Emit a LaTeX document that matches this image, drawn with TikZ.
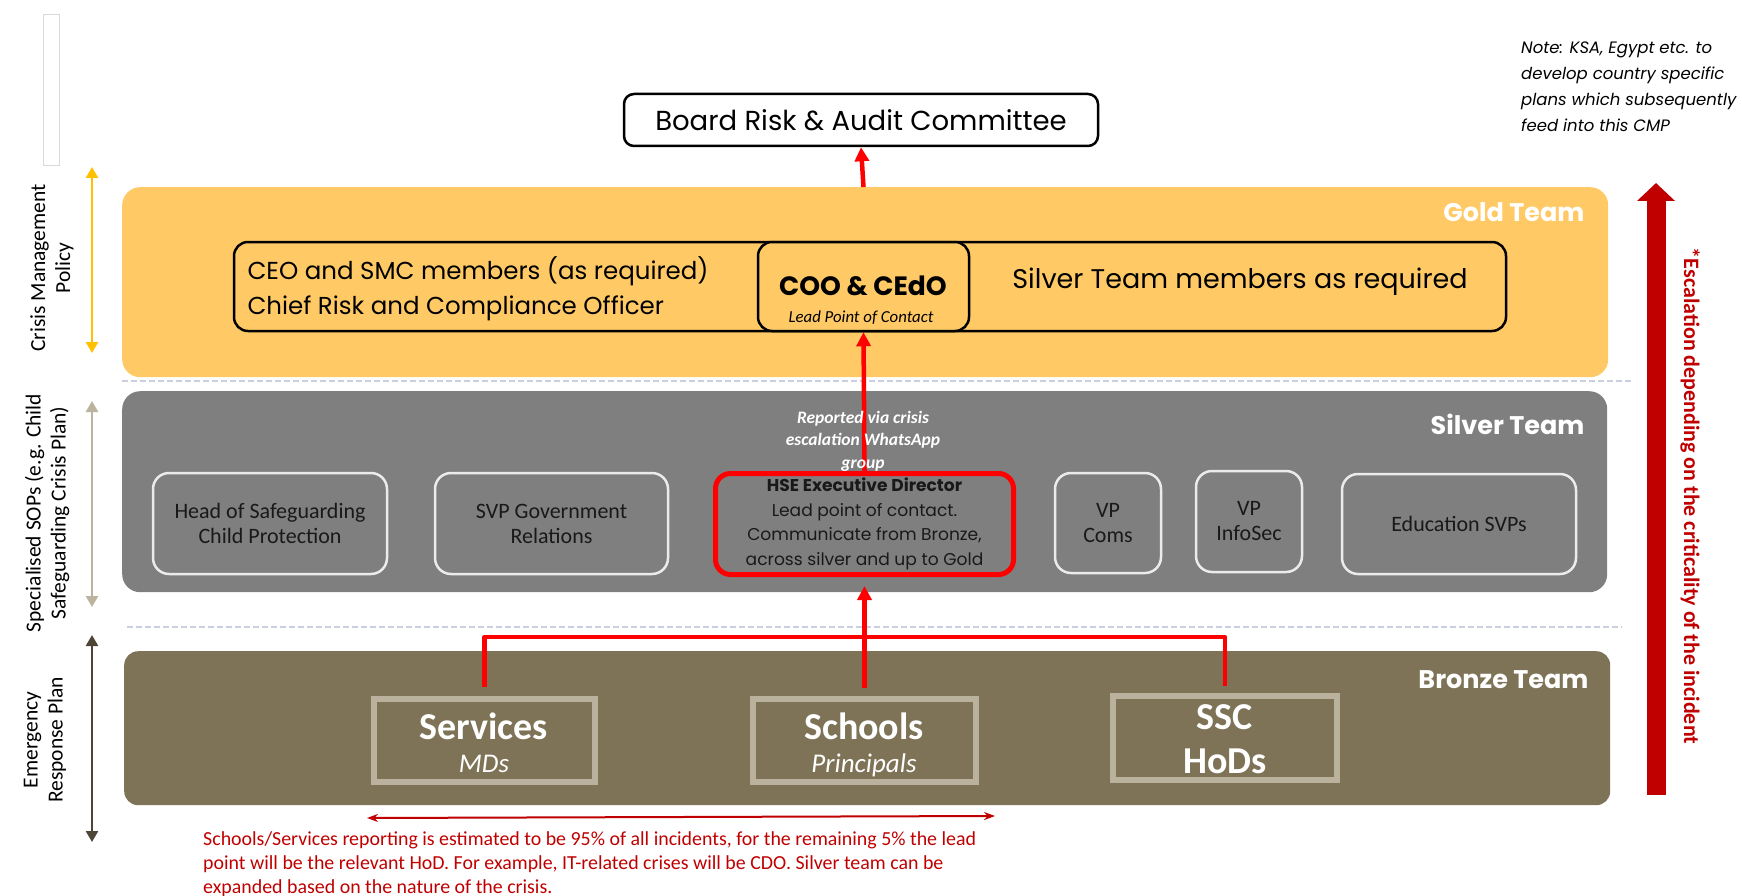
\documentclass[tikz,border=0pt]{standalone}
\usepackage{fontspec}
\setmainfont{Carlito}
\newfontfamily\fut{Poppins}
\usetikzlibrary{arrows.meta}

\definecolor{goldc}{HTML}{FFCA66}
\definecolor{silverc}{HTML}{7F7F7F}
\definecolor{bronzec}{HTML}{7E7356}
\definecolor{bronzeline}{HTML}{BBB29D}
\definecolor{darkred}{HTML}{C00000}
\definecolor{dashc}{HTML}{C9CFDC}
\definecolor{goldarr}{HTML}{FFC000}
\definecolor{silverarr}{HTML}{BCB39F}
\definecolor{bronzearr}{HTML}{4D4535}

\newcommand{\setfs}[2]{\fontsize{#1}{#2}\selectfont}

\begin{document}
\begin{tikzpicture}[x=1pt,y=-1pt,
    panel/.style={rounded corners=18pt, inner sep=0pt, anchor=north west},
    member/.style={draw=white!92!black, line width=2.5pt, rounded corners=16pt, text=black!90, align=center, font=\setfs{22}{25}, inner sep=0pt},
    unitbox/.style={draw=bronzeline, line width=6pt, inner sep=0pt},
    unitname/.style={anchor=base, text=white, font=\bfseries\setfs{38}{40}},
    unitrole/.style={anchor=base, text=white, font=\itshape\setfs{27}{30}},
    teamlbl/.style={anchor=east, text=white, font=\fut\bfseries\setfs{25.5}{30}},
    sidelbl/.style={rotate=90, align=center, font=\setfs{21.5}{25}},
    planarr/.style={line width=2.5pt, {Triangle[width=12pt,length=11pt]}-{Triangle[width=12pt,length=11pt]}},
    redline/.style={red, line width=4.5pt},
    redarr/.style={redline, -{Triangle[width=14pt,length=14pt]}},
    sepline/.style={dashc, line width=2pt, dash pattern=on 6pt off 3pt}]
    \useasboundingbox (0,0) rectangle (1742,896);

    % plan levels down the left side
    \draw[black!15, line width=1pt] (43,15) rectangle (59,166);
    \coordinate (pg1) at (92,167);  \coordinate (pg2) at (92,353);
    \coordinate (ps1) at (92,401);  \coordinate (ps2) at (92,607);
    \coordinate (pb1) at (92,635);  \coordinate (pb2) at (92,842);
    \draw[planarr, goldarr] (pg1) -- (pg2);
    \draw[planarr, silverarr] (ps1) -- (ps2);
    \draw[planarr, bronzearr] (pb1) -- (pb2);
    \node[sidelbl] (policy) at (52,268) {Crisis Management\\Policy};
    \node[sidelbl] (sops) at (47,513) {Specialised SOPs (e.g. Child\\Safeguarding Crisis Plan)};
    \node[sidelbl] (erp) at (45,740) {Emergency\\Response Plan};

    \draw[sepline] (122,381) -- (1631,381);
    \draw[sepline] (127,627) -- (1622,627);

    % team bands
    \node[panel, fill=goldc, minimum width=1486pt, minimum height=190pt] (gold) at (122,187) {};
    \node[panel, fill=silverc, minimum width=1485pt, minimum height=201pt] (silver) at (122,391) {};
    \node[panel, fill=bronzec, minimum width=1486pt, minimum height=154pt, rounded corners=14pt] (bronze) at (124,651) {};
    \node[teamlbl] (goldlbl) at (1588,212) {Gold Team};
    \node[teamlbl] (silverlbl) at (1588,424) {Silver Team};
    \node[teamlbl] (bronzelbl) at (1592,680) {Bronze Team};

    \node[draw, fill=white, line width=2.5pt, rounded corners=10pt, minimum width=474pt, minimum height=52pt,
        font=\fut\setfs{27.5}{30}] (board) at (861,120) {Board Risk \& Audit Committee};

    % gold
    \node[draw, line width=2.5pt, rounded corners=14pt, minimum width=1272pt, minimum height=89pt] (goldrow) at (870,286.5) {};
    \node[draw, fill=goldc, line width=2.5pt, rounded corners=14pt, minimum width=211pt, minimum height=89pt] (coo) at (863.5,286.5) {};
    \node[anchor=west, align=left, font=\fut\setfs{24.5}{35}] (smc) at (244,289) {CEO and SMC members (as required)\\Chief Risk and Compliance Officer};
    \node[font=\fut\bfseries\setfs{26.5}{28}] (cootxt) at (863,286) {COO \& CEdO};
    \node[font=\itshape\setfs{16.8}{18}] (coolead) at (861,318) {Lead Point of Contact};
    \node[font=\fut\setfs{27}{30}] (silvermem) at (1240,282) {Silver Team members as required};

    % silver
    \node[member, minimum width=234pt, minimum height=101pt] (safeguard) at (270,523.5) {Head of Safeguarding\\Child Protection};
    \node[member, minimum width=233pt, minimum height=101pt] (govrel) at (551.5,523.5) {SVP Government\\Relations};
    \node[member, draw=red, line width=5pt, rounded corners=15pt, minimum width=298pt, minimum height=101pt,
        font=\fut\setfs{17.1}{24.5}] (hse) at (864.5,524) {\textbf{HSE Executive Director}\\Lead point of contact.\\Communicate from Bronze,\\across silver and up to Gold};
    \node[member, minimum width=106pt, minimum height=100pt] (coms) at (1108,523) {VP\\Coms};
    \node[member, minimum width=106pt, minimum height=101pt] (infosec) at (1249,521.5) {VP\\InfoSec};
    \node[member, minimum width=234pt, minimum height=100pt] (edu) at (1459,524) {Education SVPs};

    % bronze
    \node[unitbox, minimum width=221pt, minimum height=83pt] (services) at (484.5,740.5) {};
    \node[unitbox, minimum width=223pt, minimum height=83pt] (schools) at (864.5,740.5) {};
    \node[unitbox, minimum width=224pt, minimum height=84pt] (ssc) at (1225,738) {};
    \node[unitname] (servname) at (484,739) {Services};
    \node[unitrole] (servrole) at (484,772) {MDs};
    \node[unitname] (schname) at (864,739) {Schools};
    \node[unitrole] (schrole) at (864,772) {Principals};
    \node[unitname] (sscname) at (1225,729) {SSC};
    \node[unitname] (sscrole) at (1225,773) {HoDs};

    % reporting lines
    \coordinate (bus) at (0,637);
    \draw[redline, line join=round] ([yshift=9pt]services.north) -- (services.north |- bus) -- (ssc.north |- bus) -- ([yshift=7pt]ssc.north);
    \draw[redarr] ([yshift=8pt]schools.north) -- ([yshift=-9pt]hse.south);
    \draw[redarr] (hse.north) -- (coo.south);
    \draw[redarr] (coo.north |- gold.north) -- (board.south);
    \node[align=center, text=white, font=\bfseries\itshape\setfs{17.5}{22.5}] (whatsapp) at (863,441) {Reported via crisis\\escalation WhatsApp\\group};

    \coordinate (spanl) at (367,818);
    \coordinate (spanr) at (995,816);
    \draw[darkred, line width=2pt, {Stealth[length=11pt,width=8pt]}-{Stealth[length=11pt,width=8pt]}] (spanl) -- (spanr);
    \node[anchor=north west, align=left, inner sep=0pt, text=darkred, font=\setfs{19.9}{24}] (footnote) at (203,831)
        {Schools/Services reporting is estimated to be 95\% of all incidents, for the remaining 5\% the lead\\
         point will be the relevant HoD. For example, IT-related crises will be CDO. Silver team can be\\
         expanded based on the nature of the crisis.};

    % escalation
    \coordinate (escb) at (1656,795);
    \coordinate (esct) at (1656,183);
    \draw[darkred, line width=19pt, -{Triangle[width=37pt,length=18pt]}] (escb) -- (esct);
    \node[rotate=-90, text=darkred, font=\bfseries\setfs{22}{24}] (esclbl) at (1690,496) {*Escalation depending on the criticality of the incident};

    \node[anchor=north west, align=left, inner sep=0pt, font=\fut\itshape\setfs{16.5}{26}] (cmpnote) at (1521,42)
        {Note: KSA, Egypt etc. to\\develop country specific\\plans which subsequently\\feed into this CMP};
\end{tikzpicture}
\end{document}
